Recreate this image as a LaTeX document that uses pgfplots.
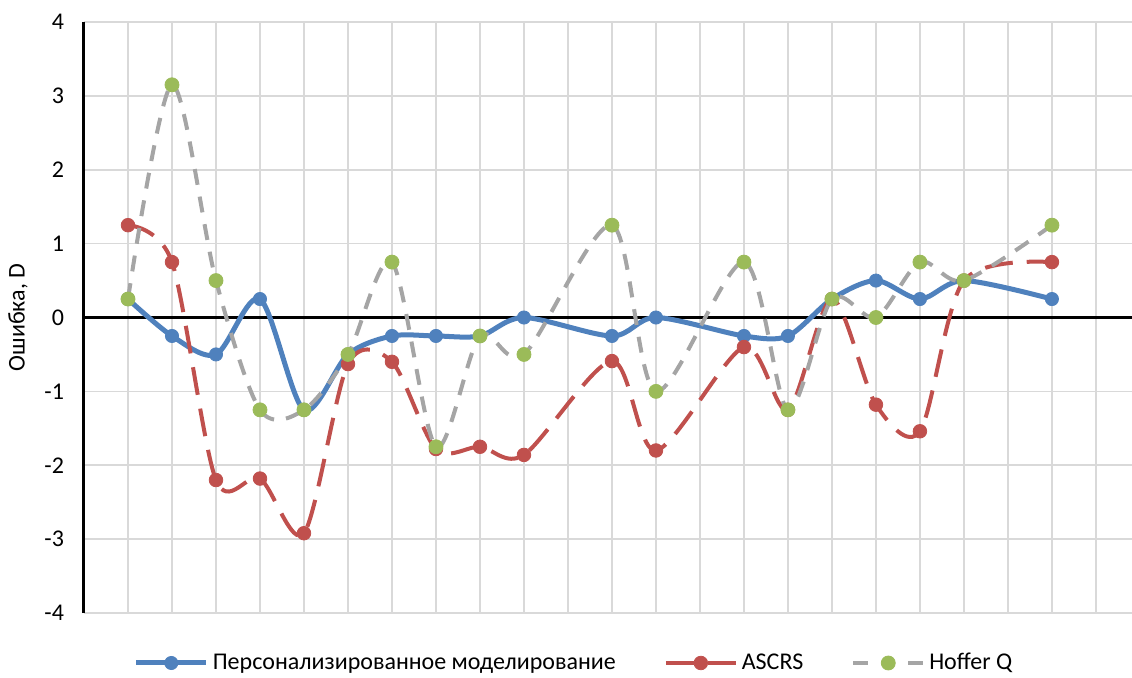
\documentclass[border=0pt]{standalone}
\usepackage{fontspec}
\setmainfont{Carlito}
\usepackage{pgfplots}
\usepackage{pgfplotstable}
\pgfplotsset{compat=1.18}

\definecolor{seriesblue}{HTML}{4F81BD}
\definecolor{seriesred}{HTML}{C0504D}
\definecolor{seriesgreen}{HTML}{9BBB59}
\definecolor{seriesgray}{HTML}{A5A5A5}
\definecolor{gridgray}{HTML}{D9D9D9}

% legend sample for the short-dashed series: two dashes around the marker
\pgfplotsset{
  shortdash legend/.style={
    legend image code/.code={
      \draw[##1,mark=none,solid] (0pt,0pt) -- (7.5pt,0pt) (27.5pt,0pt) -- (35pt,0pt);
      \draw[##1] plot coordinates {(17.5pt,0pt)};
    }
  }
}

% x = case number, then the error of each method (D)
\pgfplotstableread{
x   pers   ascrs  hoffer
1   0.25   1.25   0.25
2  -0.25   0.75   3.15
3  -0.50  -2.20   0.50
4   0.25  -2.18  -1.25
5  -1.25  -2.92  -1.25
6  -0.50  -0.63  -0.50
7  -0.25  -0.60   0.75
8  -0.25  -1.78  -1.75
9  -0.25  -1.75  -0.25
10  0.00  -1.86  -0.50
12 -0.25  -0.59   1.25
13  0.00  -1.80  -1.00
15 -0.25  -0.40   0.75
16 -0.25  -1.25  -1.25
17  0.25   0.25   0.25
18  0.50  -1.18   0.00
19  0.25  -1.54   0.75
20  0.50   0.50   0.50
22  0.25   0.75   1.25
}\errdata

\begin{document}
\begin{tikzpicture}
\useasboundingbox (0,0) rectangle (566pt,338.5pt);
\begin{axis}[
  at={(42pt,32pt)}, anchor=south west,
  width=524pt, height=295.5pt, scale only axis,
  xmin=0, xmax=23.82, ymin=-4, ymax=4,
  xtick={1,...,23}, xticklabels={},
  ytick={-4,...,4},
  major tick length=0pt,
  grid=major,
  major grid style={color=gridgray, line width=0.8pt},
  axis lines=left, axis line style={-},
  x axis line style={draw=none},
  y axis line style={black, line width=1.5pt},
  extra y ticks={0}, extra y tick labels={},
  extra y tick style={major grid style={black, line width=1.5pt}},
  /pgf/number format/assume math mode=true,
  yticklabel style={font=\fontsize{12}{14}\selectfont, xshift=-6.5pt},
  ylabel={Ошибка, D},
  ylabel style={at={(axis description cs:-0.063,0.5)}, anchor=center, font=\fontsize{12}{14}\selectfont},
  legend columns=3,
  legend style={at={(axis description cs:0.4685,-0.0846)}, anchor=center,
    draw=none, fill=none, font=\fontsize{12}{14}\selectfont,
    /tikz/every even column/.append style={column sep=22pt}},
  legend image code/.code={
    \draw[#1,mark=none] (0pt,0pt) -- (35pt,0pt);
    \draw[#1] plot coordinates {(17.5pt,0pt)};
  },
  smooth, tension=0.5,
]
\addplot[color=seriesblue, line width=2.5pt, mark=*, mark size=3.3pt,
  mark options={solid, line width=0.4pt, draw=seriesblue, fill=seriesblue}]
  table[x=x, y=pers] {\errdata};
\addlegendentry{Персонализированное моделирование}

\addplot[color=seriesred, line width=2pt, dash pattern=on 14pt off 7pt,
  mark=*, mark size=3.4pt, mark options={solid, line width=0.4pt, draw=seriesred, fill=seriesred}]
  table[x=x, y=ascrs] {\errdata};
\addlegendentry{ASCRS}

\addplot[color=seriesgray, line width=2pt, dash pattern=on 8pt off 6pt,
  mark=*, mark size=3.5pt, mark options={solid, line width=0.4pt, draw=seriesgreen, fill=seriesgreen},
  shortdash legend]
  table[x=x, y=hoffer] {\errdata};
\addlegendentry{Hoffer Q}
\end{axis}
\end{tikzpicture}
\end{document}
